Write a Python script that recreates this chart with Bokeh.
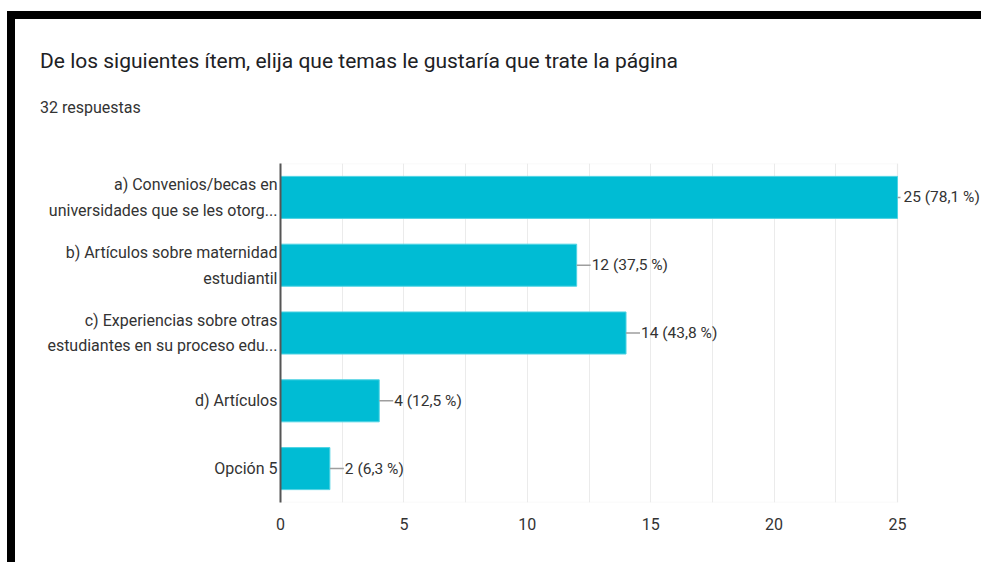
from bokeh.plotting import figure
from bokeh.models import (ColumnDataSource, FixedTicker, LabelSet, Div, Spacer,
                          Range1d, BoxAnnotation)
from bokeh.layouts import column, row
from bokeh.embed import file_html
from bokeh.resources import INLINE
from bokeh.core.properties import value

title_text = "De los siguientes ítem, elija que temas le gustaría que trate la página"
subtitle_text = "32 respuestas"

categories = [
    "a) Convenios/becas en\nuniversidades que se les otorg...",
    "b) Artículos sobre maternidad\nestudiantil",
    "c) Experiencias sobre otras\nestudiantes en su proceso edu...",
    "d) Artículos",
    "Opción 5",
]
counts = [25, 12, 14, 4, 2]
labels = ["25 (78,1 %)", "12 (37,5 %)", "14 (43,8 %)", "4 (12,5 %)", "2 (6,3 %)"]
x_ticks = [0, 5, 10, 15, 20, 25]
grid_ticks = [0, 2.5, 5, 7.5, 10, 12.5, 15, 17.5, 20, 22.5, 25]
x_max = 25

# style
FONT = "Roboto"
BAR = "#00bcd4"
stem_px = [3, 14, 14, 14, 14]
label_off = [6, 15, 15, 15, 15]

TOTAL_W = 981
LEFT_PAD = 7
BAR_W = 8
W = TOTAL_W - LEFT_PAD - BAR_W          # 966
TOP_PAD = 11
HEADER_H = 140
MAIN_H = 403
FRAME_LEFT = 265      # canvas px
AXIS_PX = 617         # px from 0 to x_max
FRAME_W = W - FRAME_LEFT

# ---------- header (title + subtitle) ----------
header_html = (
    f'<div style="padding:30px 0 0 25px; font-family:Roboto; font-size:21px; '
    f'line-height:24px; color:#202124; white-space:nowrap;">{title_text}</div>'
    f'<div style="padding:25px 0 0 25px; font-family:Roboto; font-size:16px; '
    f'line-height:20px; color:#333333; white-space:nowrap;">{subtitle_text}</div>'
)
header = Div(text=header_html, width=W, height=HEADER_H, margin=0)

# ---------- main chart ----------
n = len(categories)
ypos = [n - 1 - i for i in range(n)]
src = ColumnDataSource(dict(y=ypos, val=counts, lab=labels, stem=stem_px, off=label_off))

p = figure(
    width=W, height=MAIN_H,
    x_range=Range1d(0, x_max * FRAME_W / AXIS_PX),
    y_range=Range1d(-0.5, n - 0.5),
    output_backend="svg", toolbar_location=None, title=None,
    min_border_left=FRAME_LEFT, min_border_right=0,
    min_border_top=4, min_border_bottom=60, margin=0,
)
p.background_fill_color = "white"
p.border_fill_color = "white"
p.outline_line_color = None

p.xgrid.ticker = FixedTicker(ticks=grid_ticks)
p.xgrid.grid_line_color = "#ebebeb"
p.xgrid.grid_line_width = 1
p.ygrid.grid_line_color = None

p.add_layout(BoxAnnotation(left=0, right=x_max, bottom=-0.5, top=n - 0.5,
                           fill_alpha=0, line_color="#e6e6e6", line_width=1.5,
                           level="underlay"))

p.hbar(y="y", right="val", left=0, height=0.62, source=src,
       fill_color=BAR, line_color="#4fd3e3", line_width=1)
p.ray(x="val", y="y", length="stem", angle=0, length_units="screen",
      source=src, line_color="#9e9e9e", line_width=1.5)

p.add_layout(LabelSet(x="val", y="y", text="lab", source=src, x_offset="off",
                      text_baseline="middle", text_align="left",
                      text_font=value(FONT), text_font_size=value("15.5px"),
                      text_color="#333333"))

xa = p.xaxis[0]
xa.ticker = FixedTicker(ticks=x_ticks)
xa.axis_line_color = None
xa.major_tick_line_color = None
xa.major_tick_out = 0
xa.major_tick_in = 0
xa.minor_tick_line_color = None
xa.major_label_standoff = 15
xa.major_label_text_font = FONT
xa.major_label_text_font_size = "16px"
xa.major_label_text_color = "#333333"

ya = p.yaxis[0]
ya.ticker = FixedTicker(ticks=ypos)
ya.major_label_overrides = {y: c for y, c in zip(ypos, categories)}
ya.axis_line_color = "#555555"
ya.axis_line_width = 2
ya.major_tick_line_color = None
ya.major_tick_out = 0
ya.major_tick_in = 0
ya.minor_tick_line_color = None
ya.major_label_standoff = 3
ya.major_label_text_font = FONT
ya.major_label_text_font_size = "16px"
ya.major_label_text_color = "#333333"
ya.major_label_text_line_height = 1.35

# ---------- black frame ----------
left_bar = Div(text="", width=BAR_W, height=HEADER_H + MAIN_H + BAR_W, margin=0,
               styles={"background-color": "black"})
top_bar = Div(text="", width=W, height=BAR_W, margin=0,
              styles={"background-color": "black"})
layout = column(Spacer(width=TOTAL_W, height=TOP_PAD, margin=0),
                row(Spacer(width=LEFT_PAD, height=10, margin=0), left_bar,
                    column(top_bar, header, p, margin=0), margin=0),
                margin=0)

open("out.html", "w").write(file_html(layout, INLINE))
